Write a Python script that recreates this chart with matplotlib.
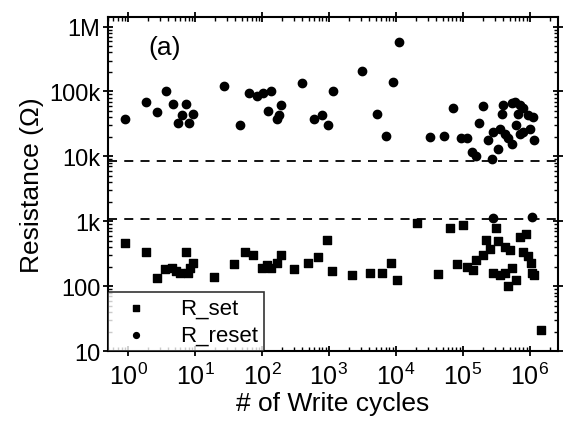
import matplotlib
matplotlib.use("Agg")
import matplotlib.pyplot as plt
from matplotlib.ticker import LogLocator, FixedLocator, NullFormatter

plt.rcParams['font.family'] = ['Liberation Sans', 'DejaVu Sans']
plt.rcParams['mathtext.default'] = 'regular'

# R_reset (circles)
reset_cycles = [0.90, 1.84, 2.74, 3.69, 4.65, 7.35, 6.31, 5.50, 8.22, 9.44,
                27.5, 46.8, 64.6, 83.2, 105, 138, 123, 195, 166, 182,
                389, 589, 776, 977, 1150, 3090, 11200, 9120, 5250, 7240,
                32400, 52500, 72400, 95500, 115000, 135000, 158000, 269000, 174000, 200000,
                240000, 282000, 331000, 355000, 427000, 479000, 537000, 398000, 389000, 537000,
                603000, 708000, 676000, 794000, 933000, 1120000, 631000, 708000, 794000, 1000000,
                1170000, 1070000, 282000]
reset_res = [37200, 69200, 49000, 100000, 63100, 63100, 43600, 33100, 33100, 45700,
             123000, 30900, 93300, 85100, 93300, 102000, 50100, 61700, 38000, 42700,
             135000, 38000, 43600, 30900, 100000, 204000, 575000, 141000, 44700, 20900,
             20000, 20900, 55000, 19100, 19100, 11500, 10000, 9120, 32400, 60300,
             17800, 24000, 13200, 26900, 22400, 19100, 15800, 61700, 45700, 66100,
             69200, 61700, 45700, 55000, 43600, 40700, 30200, 22400, 24000, 26900,
             17800, 1170, 1120]

# R_set (squares)
set_cycles = [0.90, 1.84, 2.74, 3.55, 4.47, 5.25, 6.03, 7.94, 7.35, 9.44, 8.51,
              19.1, 38.0, 56.2, 74.1, 100, 117, 138, 166, 195,
              302, 490, 692, 933, 1100, 2190, 4170, 6170, 8320, 10500,
              20900, 42700, 64600, 102000, 81300, 115000, 141000, 158000, 200000,
              224000, 251000, 339000, 427000, 501000, 309000, 708000, 891000, 794000, 933000, 1050000,
              282000, 355000, 427000, 537000, 631000, 479000, 1070000, 1170000, 1450000]
set_res = [457, 331, 135, 182, 191, 174, 158, 158, 331, 224, 191,
           141, 219, 339, 302, 191, 214, 191, 224, 302,
           186, 224, 282, 513, 174, 151, 158, 158, 229, 123,
           955, 155, 776, 871, 219, 200, 178, 251, 302,
           513, 380, 490, 407, 363, 776, 575, 631, 339, 288, 224,
           158, 148, 158, 191, 126, 100, 158, 148, 21]

dashed_levels = [8500, 1100]
ytick_vals = [10, 100, 1e3, 1e4, 1e5, 1e6]
ytick_labels = ['10', '100', '1k', '10k', '100k', '1M']
xtick_vals = [1, 10, 100, 1e3, 1e4, 1e5, 1e6]
xtick_labels = [r'$10^{%d}$' % i for i in range(7)]

fig = plt.figure(figsize=(5.64, 4.31), dpi=100)
ax = fig.add_axes([0.1915, 0.183, 0.797, 0.775])

ax.set_xscale('log')
ax.set_yscale('log')
ax.set_xlim(0.5, 2.6e6)
ax.set_ylim(10, 1.4e6)

for lv in dashed_levels:
    ax.axhline(lv, color='black', linestyle=(0, (5, 4)), linewidth=1.3, zorder=1)

ax.scatter(set_cycles, set_res, marker='s', s=27, color='black', label='R_set', zorder=3)
ax.scatter(reset_cycles, reset_res, marker='o', s=36, color='black', label='R_reset', zorder=3)

ax.yaxis.set_major_locator(FixedLocator(ytick_vals))
ax.set_yticklabels(ytick_labels)
ax.xaxis.set_major_locator(FixedLocator(xtick_vals))
ax.set_xticklabels(xtick_labels)
ax.xaxis.set_minor_locator(LogLocator(base=10, subs=range(2, 10), numticks=20))
ax.yaxis.set_minor_locator(LogLocator(base=10, subs=range(2, 10), numticks=20))
ax.xaxis.set_minor_formatter(NullFormatter())
ax.yaxis.set_minor_formatter(NullFormatter())

ax.tick_params(which='major', direction='inout', length=7, width=1.3,
               top=True, right=True)
ax.tick_params(axis='y', which='major', labelsize=17, pad=2)
ax.tick_params(axis='x', which='major', labelsize=18, pad=5)
ax.tick_params(which='minor', direction='in', length=3, width=1, top=True, right=True)

for sp in ax.spines.values():
    sp.set_linewidth(1.5)

ax.set_xlabel('# of Write cycles', fontsize=19, labelpad=1)
ax.set_ylabel('Resistance (Ω)', fontsize=19, labelpad=4)

ax.text(0.089, 0.91, '(a)', transform=ax.transAxes, fontsize=19, va='center', ha='left')

leg = ax.legend(loc='lower left', fontsize=16, frameon=True, fancybox=False,
                edgecolor='black', borderaxespad=0, handletextpad=1.0,
                borderpad=0.25, labelspacing=0.25, markerscale=0.7,
                handlelength=2.0)
leg.get_frame().set_linewidth(1.2)

fig.savefig('out.png', dpi=100)
